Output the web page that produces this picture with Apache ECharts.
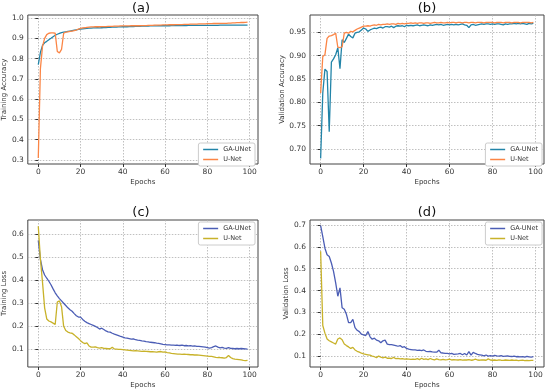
<!DOCTYPE html>
<html>
<head>
<meta charset="utf-8">
<script src="https://cdn.jsdelivr.net/npm/echarts@6/dist/echarts.min.js"></script>
<style>
html,body{margin:0;padding:0;background:#fff;}
#chart{width:550px;height:390px;}
</style>
</head>
<body>
<div id="chart"></div>
<script>
// ---- data ----
const epochs = [0,1,2,3,4,5,6,7,8,9,10,11,12,13,14,15,16,17,18,19,20,21,22,23,24,25,26,27,28,29,30,31,32,33,34,35,36,37,38,39,40,41,42,43,44,45,46,47,48,49,50,51,52,53,54,55,56,57,58,59,60,61,62,63,64,65,66,67,68,69,70,71,72,73,74,75,76,77,78,79,80,81,82,83,84,85,86,87,88,89,90,91,92,93,94,95,96,97,98,99];
const seriesNames = ['GA-UNet','U-Net'];
const panelTitles = ['(a)','(b)','(c)','(d)'];
const yNames = ['Training Accuracy','Validation Accuracy','Training Loss','Validation Loss'];
const xTicks = [0,20,40,60,80,100];
const yTicksA = [0.3,0.4,0.5,0.6,0.7,0.8,0.9,1.0];
const yTicksB = [0.70,0.75,0.80,0.85,0.90,0.95];
const yTicksC = [0.1,0.2,0.3,0.4,0.5,0.6];
const yTicksD = [0.1,0.2,0.3,0.4,0.5,0.6,0.7];

const trainAccGA = [0.770,0.830,0.865,0.878,0.885,0.893,0.900,0.908,0.915,0.920,0.924,0.928,0.930,0.932,0.934,0.936,0.938,0.940,0.942,0.944,0.946,0.947,0.948,0.949,0.950,0.950,0.951,0.951,0.952,0.951,0.952,0.953,0.953,0.954,0.954,0.955,0.955,0.955,0.956,0.956,0.957,0.957,0.957,0.958,0.958,0.958,0.959,0.959,0.959,0.960,0.960,0.960,0.960,0.961,0.961,0.961,0.961,0.962,0.962,0.962,0.962,0.962,0.962,0.963,0.963,0.963,0.963,0.963,0.963,0.963,0.963,0.964,0.964,0.964,0.964,0.964,0.964,0.964,0.964,0.964,0.964,0.964,0.964,0.964,0.964,0.964,0.965,0.965,0.965,0.965,0.965,0.965,0.965,0.965,0.965,0.965,0.965,0.965,0.965,0.965];
const trainAccU = [0.310,0.750,0.860,0.900,0.918,0.925,0.927,0.927,0.925,0.835,0.828,0.845,0.925,0.930,0.932,0.934,0.936,0.938,0.941,0.945,0.949,0.951,0.952,0.954,0.955,0.956,0.956,0.957,0.957,0.957,0.958,0.958,0.958,0.959,0.959,0.959,0.960,0.960,0.960,0.961,0.961,0.961,0.961,0.961,0.962,0.962,0.962,0.962,0.962,0.963,0.963,0.963,0.964,0.964,0.964,0.965,0.965,0.965,0.965,0.966,0.966,0.966,0.967,0.967,0.967,0.968,0.968,0.968,0.968,0.969,0.969,0.969,0.970,0.970,0.970,0.970,0.971,0.971,0.971,0.971,0.972,0.972,0.972,0.973,0.973,0.973,0.974,0.974,0.974,0.974,0.975,0.975,0.976,0.976,0.977,0.977,0.978,0.978,0.979,0.980];
const valAccGA = [0.680,0.820,0.871,0.866,0.737,0.886,0.893,0.902,0.917,0.872,0.934,0.928,0.937,0.946,0.941,0.938,0.948,0.950,0.951,0.955,0.959,0.957,0.952,0.955,0.957,0.959,0.958,0.960,0.961,0.959,0.962,0.962,0.961,0.963,0.960,0.963,0.964,0.963,0.964,0.962,0.965,0.964,0.965,0.964,0.965,0.966,0.964,0.965,0.966,0.965,0.964,0.966,0.965,0.966,0.967,0.966,0.967,0.965,0.966,0.967,0.966,0.967,0.966,0.967,0.966,0.967,0.968,0.966,0.965,0.960,0.966,0.967,0.965,0.966,0.967,0.968,0.967,0.968,0.968,0.967,0.968,0.967,0.968,0.968,0.967,0.966,0.968,0.967,0.968,0.968,0.969,0.968,0.969,0.968,0.969,0.968,0.967,0.969,0.968,0.969];
const valAccU = [0.820,0.898,0.902,0.937,0.942,0.943,0.945,0.948,0.918,0.917,0.919,0.948,0.950,0.948,0.952,0.951,0.954,0.957,0.959,0.961,0.963,0.963,0.964,0.963,0.965,0.966,0.965,0.967,0.966,0.967,0.967,0.968,0.967,0.968,0.968,0.967,0.969,0.968,0.969,0.968,0.969,0.969,0.970,0.969,0.970,0.969,0.970,0.970,0.969,0.970,0.970,0.969,0.970,0.971,0.970,0.970,0.971,0.970,0.970,0.971,0.970,0.971,0.971,0.970,0.971,0.971,0.970,0.971,0.971,0.970,0.971,0.971,0.970,0.971,0.971,0.971,0.970,0.971,0.971,0.971,0.971,0.970,0.971,0.971,0.971,0.970,0.971,0.971,0.971,0.970,0.971,0.971,0.971,0.970,0.971,0.971,0.971,0.971,0.970,0.971];
const trainLossGA = [0.572,0.490,0.445,0.422,0.408,0.395,0.380,0.362,0.345,0.332,0.320,0.310,0.300,0.290,0.280,0.272,0.265,0.255,0.246,0.240,0.240,0.230,0.222,0.216,0.212,0.208,0.204,0.200,0.195,0.188,0.192,0.186,0.180,0.176,0.175,0.170,0.166,0.163,0.160,0.156,0.153,0.150,0.149,0.147,0.145,0.146,0.142,0.140,0.139,0.137,0.136,0.134,0.133,0.131,0.130,0.129,0.127,0.126,0.124,0.122,0.121,0.120,0.120,0.119,0.119,0.118,0.118,0.117,0.119,0.116,0.117,0.115,0.116,0.114,0.115,0.113,0.113,0.112,0.111,0.110,0.108,0.106,0.108,0.112,0.115,0.110,0.107,0.109,0.106,0.105,0.108,0.105,0.104,0.103,0.104,0.103,0.104,0.103,0.102,0.101];
const trainLossU = [0.633,0.490,0.390,0.280,0.232,0.223,0.219,0.214,0.208,0.305,0.310,0.285,0.200,0.182,0.175,0.172,0.170,0.163,0.155,0.147,0.138,0.130,0.125,0.128,0.115,0.110,0.110,0.111,0.108,0.106,0.108,0.105,0.104,0.103,0.103,0.109,0.102,0.101,0.100,0.100,0.099,0.098,0.097,0.096,0.095,0.094,0.095,0.094,0.093,0.092,0.093,0.092,0.091,0.090,0.090,0.089,0.088,0.090,0.091,0.088,0.089,0.086,0.085,0.083,0.082,0.081,0.080,0.080,0.079,0.080,0.079,0.078,0.077,0.077,0.076,0.076,0.075,0.074,0.073,0.072,0.071,0.070,0.070,0.068,0.066,0.065,0.065,0.064,0.062,0.065,0.074,0.065,0.060,0.058,0.057,0.056,0.055,0.053,0.052,0.053];
const valLossGA = [0.697,0.647,0.594,0.564,0.556,0.526,0.488,0.435,0.374,0.412,0.321,0.314,0.291,0.253,0.253,0.268,0.230,0.218,0.212,0.200,0.197,0.194,0.212,0.188,0.177,0.182,0.173,0.170,0.161,0.170,0.173,0.155,0.152,0.152,0.150,0.148,0.145,0.148,0.140,0.143,0.135,0.132,0.130,0.128,0.128,0.126,0.127,0.125,0.128,0.122,0.120,0.121,0.119,0.118,0.118,0.127,0.115,0.114,0.112,0.112,0.110,0.112,0.108,0.109,0.110,0.112,0.106,0.112,0.105,0.120,0.104,0.117,0.112,0.108,0.106,0.104,0.101,0.105,0.100,0.102,0.100,0.103,0.101,0.100,0.102,0.099,0.100,0.101,0.099,0.098,0.100,0.097,0.098,0.096,0.097,0.095,0.099,0.096,0.095,0.097];
const valLossU = [0.580,0.240,0.205,0.178,0.170,0.165,0.160,0.155,0.178,0.183,0.175,0.155,0.148,0.142,0.135,0.140,0.128,0.122,0.118,0.113,0.110,0.108,0.106,0.104,0.100,0.097,0.093,0.100,0.095,0.092,0.095,0.090,0.090,0.089,0.094,0.088,0.089,0.087,0.088,0.086,0.087,0.086,0.085,0.086,0.085,0.088,0.084,0.090,0.085,0.087,0.084,0.089,0.085,0.083,0.087,0.084,0.083,0.085,0.083,0.084,0.086,0.082,0.084,0.083,0.082,0.084,0.081,0.083,0.082,0.084,0.081,0.082,0.086,0.082,0.081,0.083,0.082,0.081,0.087,0.082,0.081,0.082,0.080,0.083,0.081,0.080,0.082,0.081,0.080,0.082,0.080,0.081,0.079,0.080,0.081,0.079,0.080,0.079,0.080,0.080];

// ---- styling ----
const colAccGA = '#2284a8', colAccU = '#fb8545';
const colLossGA = '#4b5db5', colLossU = '#c8b22a';
const axisColor = '#333';

const grids = [
  {left:24, top:15, width:234, height:149},
  {left:310, top:15, width:234, height:149},
  {left:24, top:220, width:234, height:148},
  {left:310, top:220, width:234, height:148}
];
const yRanges = [[0.28,1.015],[0.668,0.987],[0.024,0.660],[0.05,0.723]];
const yTicks = [yTicksA, yTicksB, yTicksC, yTicksD];
const yDecimals = [1,2,1,1];
const yNameGaps = [17,22,17,19];

function pairs(vals){ return epochs.map((e,i)=>[e, vals[i]]); }

const legendPos = [
  {right:295, top:143},
  {right:8, top:143},
  {right:295, top:222},
  {right:8, top:222}
];

const option = {
  animation:false,
  backgroundColor:'#fff',
  title: panelTitles.map((t,i)=>({
    text:t, left: grids[i].left + grids[i].width/2, top: (i<2?2:206), textAlign:'center', padding:0,
    textStyle:{fontSize:13, fontWeight:'normal', color:'#111', fontFamily:'DejaVu Sans'}
  })),
  grid: grids.map(g=>Object.assign({show:true, borderColor:'#444', borderWidth:1, backgroundColor:'#fff'}, g)),
  xAxis: grids.map((g,i)=>({
    type:'value', gridIndex:i, min:-4.95, max:103.95,
    name:'Epochs', nameLocation:'middle', nameGap:15,
    nameTextStyle:{fontSize:7, color:axisColor, fontFamily:'DejaVu Sans'},
    axisLine:{show:false},
    axisTick:{show:true, length:3, customValues:xTicks, lineStyle:{color:axisColor}},
    axisLabel:{fontSize:7.5, color:axisColor, margin:4, customValues:xTicks, fontFamily:'DejaVu Sans'},
    splitLine:{show:true, lineStyle:{type:[1.5,1.5], color:'#b0b0b0', width:0.8}}
  })),
  yAxis: grids.map((g,i)=>({
    type:'value', gridIndex:i, min:yRanges[i][0], max:yRanges[i][1],
    name:yNames[i], nameLocation:'middle', nameGap:yNameGaps[i], nameRotate:90,
    nameTextStyle:{fontSize:7, color:axisColor, fontFamily:'DejaVu Sans'},
    axisLine:{show:false},
    axisTick:{show:true, length:3, customValues:yTicks[i], lineStyle:{color:axisColor}},
    axisLabel:{fontSize:7.5, color:axisColor, margin:4, customValues:yTicks[i], fontFamily:'DejaVu Sans',
      formatter:(v)=>Number(v).toFixed(yDecimals[i])},
    splitLine:{show:true, lineStyle:{type:[1.5,1.5], color:'#b0b0b0', width:0.8}}
  })),
  legend: legendPos.map((p,i)=>Object.assign({
    orient:'vertical', itemWidth:15, itemHeight:5, itemGap:3,
    padding:[3,4,3,4], borderColor:'#ccc', borderWidth:1, borderRadius:2, backgroundColor:'#fff',
    textStyle:{fontSize:6.5, color:axisColor, fontFamily:'DejaVu Sans'},
    data: [
      {name:seriesNames[0], lineStyle:{color: i<2?colAccGA:colLossGA, width:1.5}, itemStyle:{opacity:0}},
      {name:seriesNames[1], lineStyle:{color: i<2?colAccU:colLossU, width:1.5}, itemStyle:{opacity:0}}
    ]
  }, p)),
  series: [
    {vals:trainAccGA, c:colAccGA, g:0, n:0},
    {vals:trainAccU, c:colAccU, g:0, n:1},
    {vals:valAccGA, c:colAccGA, g:1, n:0},
    {vals:valAccU, c:colAccU, g:1, n:1},
    {vals:trainLossGA, c:colLossGA, g:2, n:0},
    {vals:trainLossU, c:colLossU, g:2, n:1},
    {vals:valLossGA, c:colLossGA, g:3, n:0},
    {vals:valLossU, c:colLossU, g:3, n:1}
  ].map(s=>({
    type:'line', name:seriesNames[s.n], xAxisIndex:s.g, yAxisIndex:s.g,
    data:pairs(s.vals), symbol:'none', showSymbol:false,
    lineStyle:{color:s.c, width:1.3}, itemStyle:{color:s.c}
  }))
};

const chart = echarts.init(document.getElementById('chart'), null, {renderer:'canvas'});
chart.setOption(option);
</script>
</body>
</html>
